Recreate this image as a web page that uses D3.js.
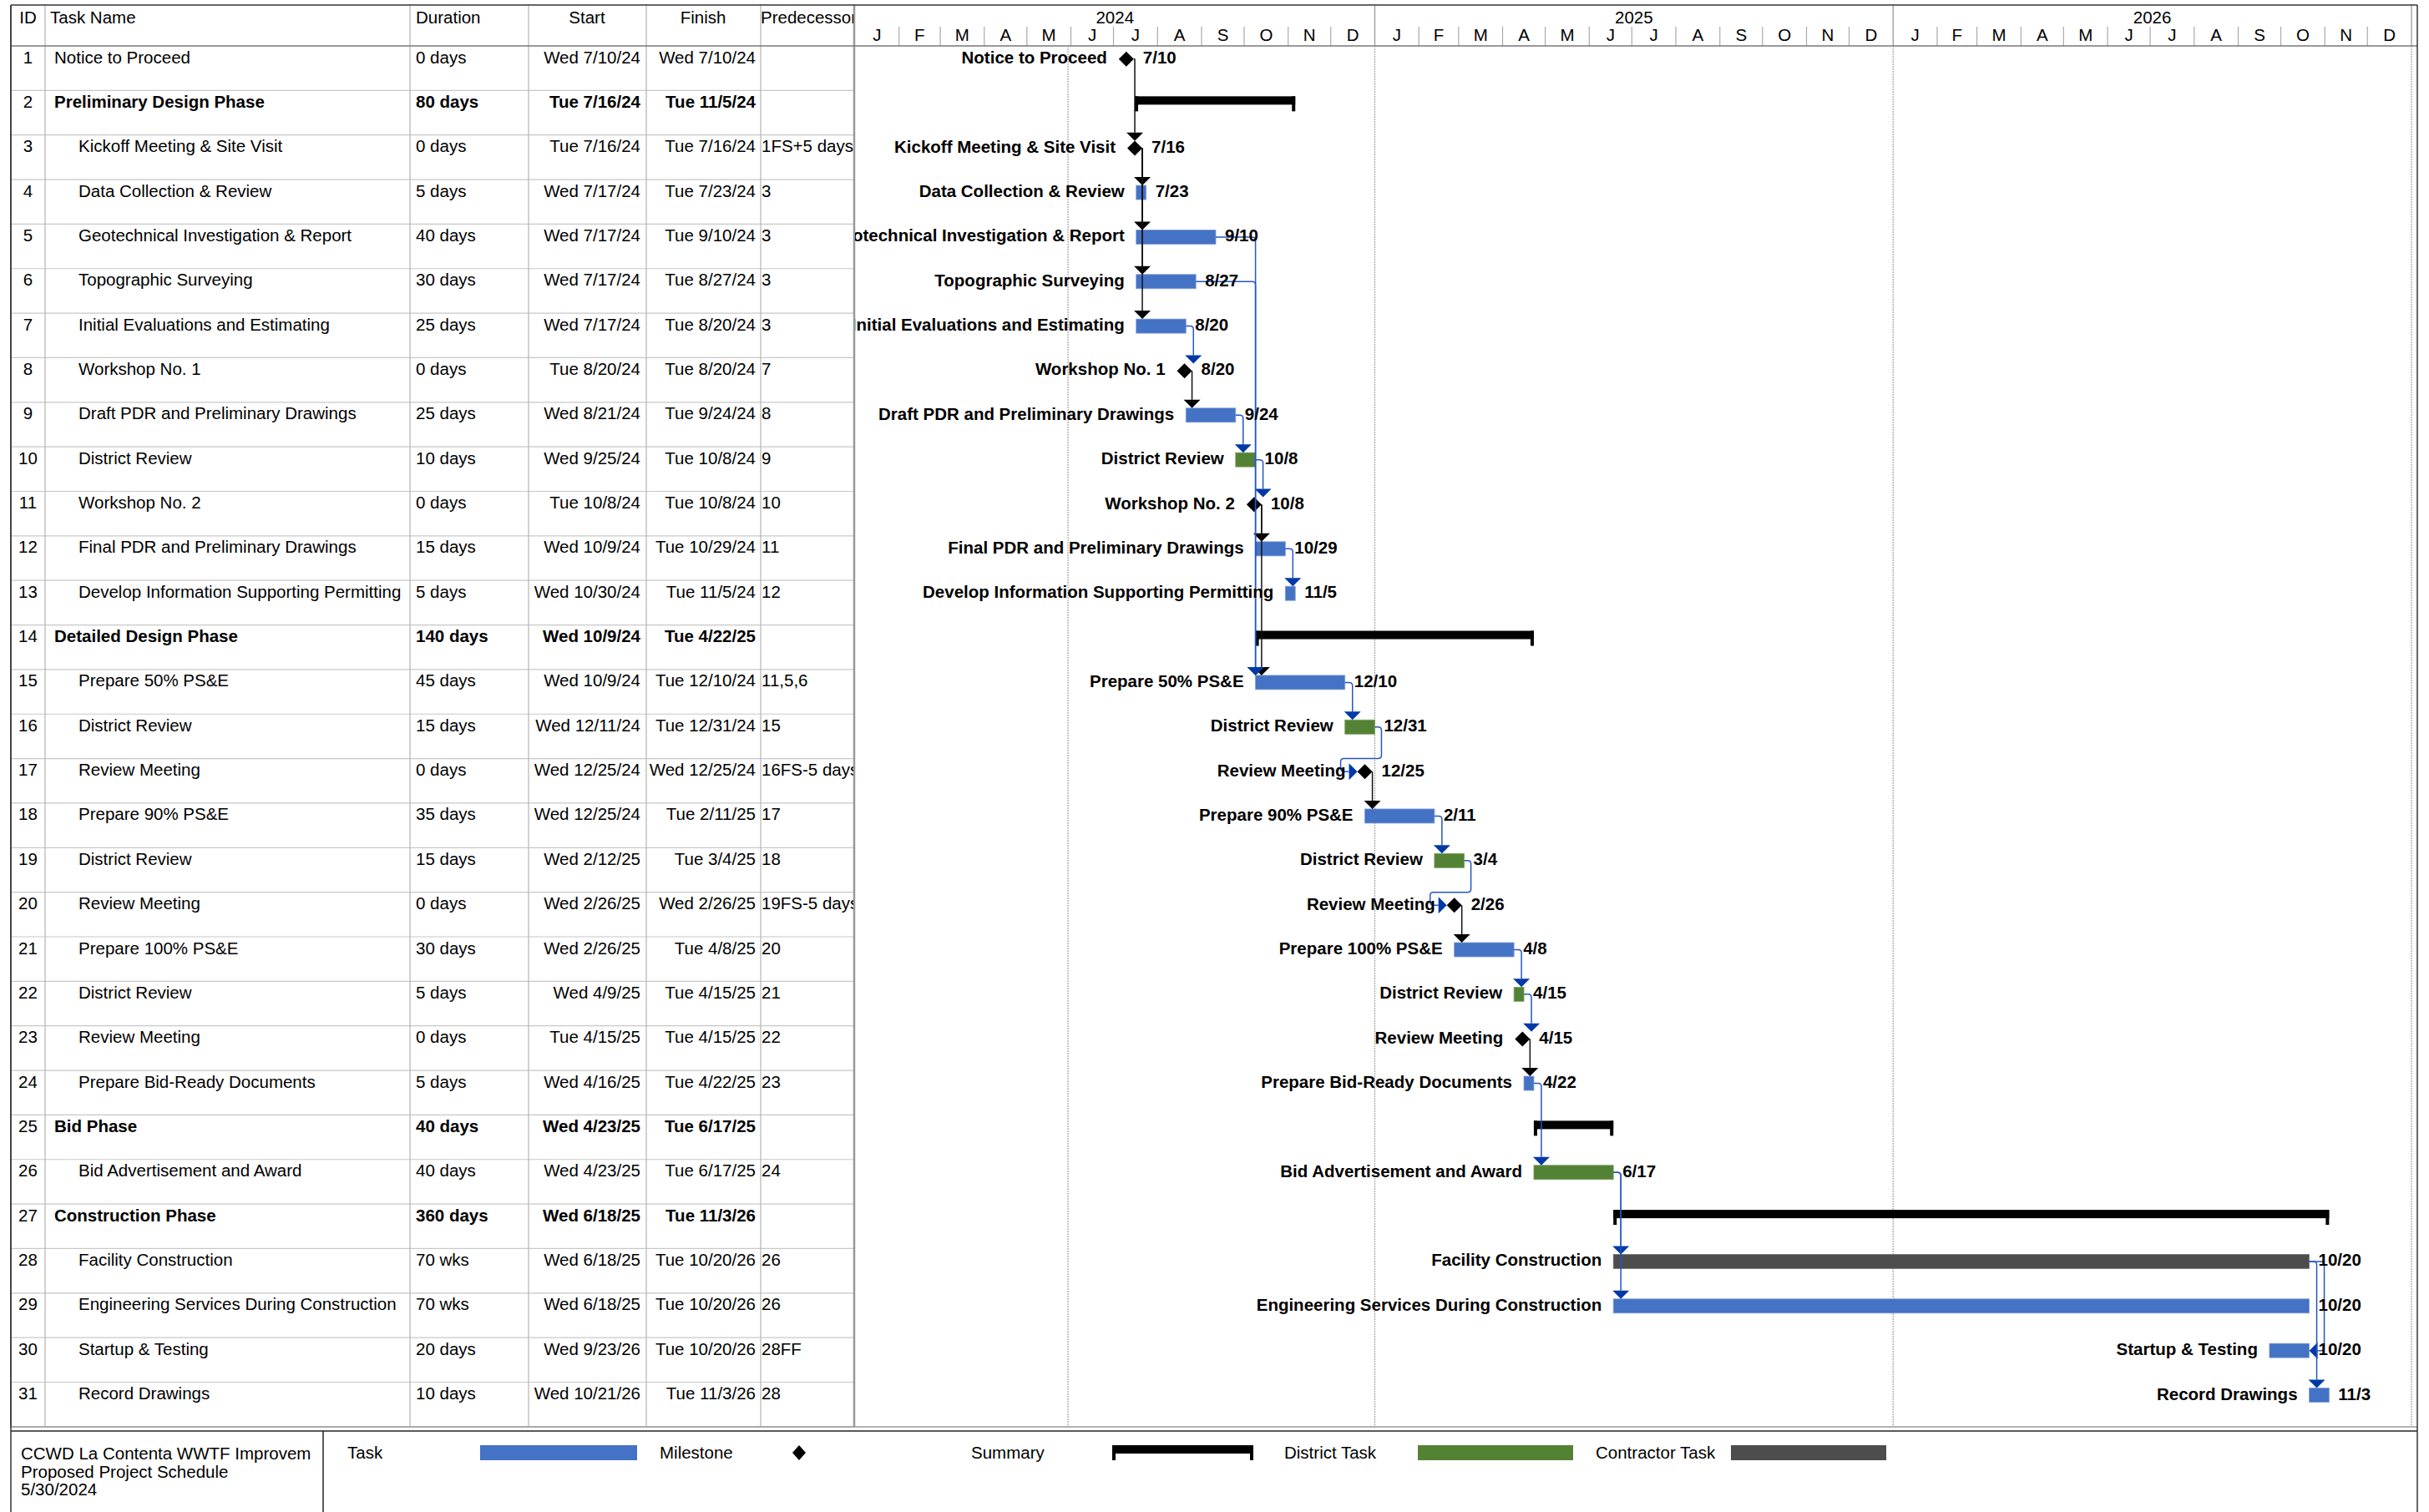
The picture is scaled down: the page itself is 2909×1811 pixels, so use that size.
<!DOCTYPE html>
<html><head><meta charset="utf-8">
<script src="https://cdn.jsdelivr.net/npm/d3@7"></script>
<style>
body{margin:0;background:#fff}
svg{display:block}
text{font-family:"Liberation Sans",Arial,sans-serif;font-size:20.5px;fill:#000}
</style>
</head><body>
<svg id="chart" width="2909" height="1811"></svg>
<script>
// ---------------- DATA ----------------
const taskIds = [1,2,3,4,5,6,7,8,9,10,11,12,13,14,15,16,17,18,19,20,21,22,23,24,25,26,27,28,29,30,31];
const taskNames = [
  "Notice to Proceed","Preliminary Design Phase","Kickoff Meeting & Site Visit","Data Collection & Review",
  "Geotechnical Investigation & Report","Topographic Surveying","Initial Evaluations and Estimating","Workshop No. 1",
  "Draft PDR and Preliminary Drawings","District Review","Workshop No. 2","Final PDR and Preliminary Drawings",
  "Develop Information Supporting Permitting","Detailed Design Phase","Prepare 50% PS&E","District Review",
  "Review Meeting","Prepare 90% PS&E","District Review","Review Meeting","Prepare 100% PS&E","District Review",
  "Review Meeting","Prepare Bid-Ready Documents","Bid Phase","Bid Advertisement and Award","Construction Phase",
  "Facility Construction","Engineering Services During Construction","Startup & Testing","Record Drawings"];
const outlineLevels = [1,1,2,2,2,2,2,2,2,2,2,2,2,1,2,2,2,2,2,2,2,2,2,2,1,2,1,2,2,2,2];
const durations = ["0 days","80 days","0 days","5 days","40 days","30 days","25 days","0 days","25 days","10 days",
  "0 days","15 days","5 days","140 days","45 days","15 days","0 days","35 days","15 days","0 days","30 days",
  "5 days","0 days","5 days","40 days","40 days","360 days","70 wks","70 wks","20 days","10 days"];
const startDates = ["Wed 7/10/24","Tue 7/16/24","Tue 7/16/24","Wed 7/17/24","Wed 7/17/24","Wed 7/17/24","Wed 7/17/24",
  "Tue 8/20/24","Wed 8/21/24","Wed 9/25/24","Tue 10/8/24","Wed 10/9/24","Wed 10/30/24","Wed 10/9/24","Wed 10/9/24",
  "Wed 12/11/24","Wed 12/25/24","Wed 12/25/24","Wed 2/12/25","Wed 2/26/25","Wed 2/26/25","Wed 4/9/25","Tue 4/15/25",
  "Wed 4/16/25","Wed 4/23/25","Wed 4/23/25","Wed 6/18/25","Wed 6/18/25","Wed 6/18/25","Wed 9/23/26","Wed 10/21/26"];
const finishDates = ["Wed 7/10/24","Tue 11/5/24","Tue 7/16/24","Tue 7/23/24","Tue 9/10/24","Tue 8/27/24","Tue 8/20/24",
  "Tue 8/20/24","Tue 9/24/24","Tue 10/8/24","Tue 10/8/24","Tue 10/29/24","Tue 11/5/24","Tue 4/22/25","Tue 12/10/24",
  "Tue 12/31/24","Wed 12/25/24","Tue 2/11/25","Tue 3/4/25","Wed 2/26/25","Tue 4/8/25","Tue 4/15/25","Tue 4/15/25",
  "Tue 4/22/25","Tue 6/17/25","Tue 6/17/25","Tue 11/3/26","Tue 10/20/26","Tue 10/20/26","Tue 10/20/26","Tue 11/3/26"];
const predecessors = ["","","1FS+5 days","3","3","3","3","7","8","9","10","11","12","","11,5,6","15","16FS-5 days",
  "17","18","19FS-5 days","20","21","22","23","","24","","26","26","28FF","28"];
const barTypes = ["milestone","summary","milestone","task","task","task","task","milestone","task","district",
  "milestone","task","task","summary","task","district","milestone","task","district","milestone","task","district",
  "milestone","task","summary","district","summary","contractor","task","task","task"];
const columnHeaders = ["ID","Task Name","Duration","Start","Finish","Predecessors"];
const yearLabels = ["2024","2025","2026"];
const monthLetters = ["J","F","M","A","M","J","J","A","S","O","N","D"];
const legendLabels = ["Task","Milestone","Summary","District Task","Contractor Task"];
const titleLines = ["CCWD La Contenta WWTF Improvem","Proposed Project Schedule","5/30/2024"];
const statusDate = "5/30/24";

// ---------------- HELPERS ----------------
const parseD = s => { const p = s.trim().split(" ").pop().split("/").map(Number); return new Date(Date.UTC(2000 + p[2], p[0]-1, p[1])); };
const addDay = d => new Date(d.getTime() + 86400000);
const shortDate = s => { const p = s.trim().split(" ").pop().split("/"); return p[0] + "/" + p[1]; };

const colors = { task:"#4472C4", district:"#548235", contractor:"#4D4D4D", summary:"#000", milestone:"#000" };
const linkBlue = "#2456c6", arrowBlue = "#0039a6";

const svg = d3.select("#chart");
const L = { left:13, top:6, headBottom:55, rowH:53.35, tableBottom:1709, legendTop:1714, right:2895,
  cols:[13,54,491,633,774,911,1023], chartX0:1024, chartX1:2888 };
const rowTop = i => L.headBottom + i * L.rowH;

const x = d3.scaleUtc().domain([new Date(Date.UTC(2024,0,1)), new Date(Date.UTC(2027,0,1))]).range([L.chartX0, L.chartX1]);

const defs = svg.append("defs");
defs.append("clipPath").attr("id","chartClip").append("rect")
  .attr("x",L.chartX0).attr("y",L.headBottom).attr("width",L.chartX1-L.chartX0).attr("height",L.tableBottom-L.headBottom);
L.cols.slice(0,-1).forEach((c,i)=>{
  defs.append("clipPath").attr("id","col"+i).append("rect")
    .attr("x",c+1).attr("y",0).attr("width",L.cols[i+1]-c-2).attr("height",1811);
});
defs.append("clipPath").attr("id","titleClip").append("rect").attr("x",14).attr("y",1714).attr("width",372).attr("height",100);

// ---------------- TABLE ----------------
const gT = svg.append("g");
taskIds.forEach((id,i)=>{
  gT.append("line").attr("x1",L.left).attr("x2",L.cols[6]).attr("y1",rowTop(i+1)).attr("y2",rowTop(i+1))
    .attr("stroke","#c8c8c8").attr("stroke-width",1.2);
});
L.cols.forEach((c,i)=>{
  gT.append("line").attr("x1",c).attr("x2",c).attr("y1",L.top).attr("y2",L.tableBottom)
    .attr("stroke", i===0 ? "#333" : (i===6 ? "#999" : "#b8b8b8")).attr("stroke-width", i===6 ? 2.5 : 1.3);
});
const hdrBase = 28;
const hdrPos = [{x:33.5,a:"middle"},{x:60,a:"start"},{x:498,a:"start"},{x:703,a:"middle"},{x:842,a:"middle"},{x:911,a:"start"}];
columnHeaders.forEach((h,i)=>{
  gT.append("text").attr("clip-path","url(#col"+i+")").attr("x",hdrPos[i].x).attr("y",hdrBase)
    .attr("text-anchor",hdrPos[i].a).text(h);
});
taskIds.forEach((id,i)=>{
  const y = rowTop(i) + 20.5;
  const bold = barTypes[i]==="summary" ? "bold" : "normal";
  const g = gT.append("g");
  g.append("text").attr("x",33.5).attr("y",y).attr("text-anchor","middle").text(id);
  g.append("text").attr("clip-path","url(#col1)").attr("x", outlineLevels[i]===1 ? 65 : 94).attr("y",y)
    .attr("font-weight",bold).text(taskNames[i]);
  g.append("text").attr("clip-path","url(#col2)").attr("x",498).attr("y",y).attr("font-weight",bold).text(durations[i]);
  g.append("text").attr("clip-path","url(#col3)").attr("x",767).attr("y",y).attr("text-anchor","end").attr("font-weight",bold).text(startDates[i]);
  g.append("text").attr("clip-path","url(#col4)").attr("x",905).attr("y",y).attr("text-anchor","end").attr("font-weight",bold).text(finishDates[i]);
  g.append("text").attr("clip-path","url(#col5)").attr("x",912).attr("y",y).text(predecessors[i]);
});

// ---------------- TIMESCALE HEADER ----------------
const gH = svg.append("g");
const years = d3.utcYears(x.domain()[0], x.domain()[1]);
years.forEach((yd,i)=>{
  const x0 = x(yd), x1 = x(d3.utcYear.offset(yd,1));
  gH.append("text").attr("x",(x0+x1)/2).attr("y",28).attr("text-anchor","middle").text(yearLabels[i]);
  if (i>0) gH.append("line").attr("x1",x0).attr("x2",x0).attr("y1",L.top).attr("y2",L.headBottom).attr("stroke","#999").attr("stroke-width",1.3);
});
d3.utcMonths(x.domain()[0], x.domain()[1]).forEach(md=>{
  const x0 = x(md), x1 = x(d3.utcMonth.offset(md,1));
  gH.append("text").attr("x",(x0+x1)/2).attr("y",49).attr("text-anchor","middle").text(monthLetters[md.getUTCMonth()]);
  if (md.getUTCMonth()!==0) gH.append("line").attr("x1",x0).attr("x2",x0).attr("y1",32).attr("y2",L.headBottom).attr("stroke","#aaa").attr("stroke-width",1.2);
});
gH.append("line").attr("x1",L.chartX1).attr("x2",L.chartX1).attr("y1",L.top).attr("y2",L.headBottom).attr("stroke","#999").attr("stroke-width",1.3);
svg.append("line").attr("x1",L.left).attr("x2",L.right).attr("y1",L.headBottom).attr("y2",L.headBottom).attr("stroke","#777").attr("stroke-width",1.5);
svg.append("line").attr("x1",L.left).attr("x2",L.right).attr("y1",L.top).attr("y2",L.top).attr("stroke","#333").attr("stroke-width",1.5);

const gridDates = [parseD(statusDate), ...years.slice(1), x.domain()[1]];
svg.append("g").selectAll("line").data(gridDates).join("line")
  .attr("x1",d=>x(d)).attr("x2",d=>x(d)).attr("y1",L.headBottom).attr("y2",L.tableBottom)
  .attr("stroke","#aaa").attr("stroke-width",1.3).attr("stroke-dasharray","2,1");

// ---------------- GANTT ----------------
const gC = svg.append("g").attr("clip-path","url(#chartClip)");
const gBars = gC.append("g"), gLinks = gC.append("g"), gLabels = gC.append("g");

const info = taskIds.map((id,i)=>{
  const s = parseD(startDates[i]), f = parseD(finishDates[i]);
  const isMs = barTypes[i]==="milestone";
  const xs = x(s), xe = isMs ? x(s) : x(addDay(f));
  return { i, isMs, xs, xe, left: isMs ? xs-9 : xs, right: isMs ? xs+9 : xe, top: rowTop(i), cy: rowTop(i) + (isMs ? 15.7 : 15.5) };
});

info.forEach(t=>{
  const type = barTypes[t.i];
  if (type==="summary") {
    gBars.append("rect").attr("x",t.xs).attr("y",t.top+7).attr("width",t.xe-t.xs).attr("height",10).attr("fill","#000");
    gBars.append("rect").attr("x",t.xs).attr("y",t.top+7).attr("width",4).attr("height",18).attr("fill","#000");
    gBars.append("rect").attr("x",t.xe-4).attr("y",t.top+7).attr("width",4).attr("height",18).attr("fill","#000");
    return;
  }
  if (t.isMs) {
    const cx = t.xs, cy = t.cy;
    gBars.append("path").attr("d",`M${cx},${cy-9}L${cx+9},${cy}L${cx},${cy+9}L${cx-9},${cy}Z`).attr("fill","#000");
  } else {
    gBars.append("rect").attr("x",t.xs).attr("y",t.top+7).attr("width",t.xe-t.xs).attr("height",17)
      .attr("fill",colors[type]).attr("stroke", type==="task" ? "#7f9ed8" : (type==="district" ? "#7ea063" : "#777")).attr("stroke-width",0.8);
  }
  const by = t.top + 21;
  gLabels.append("text").attr("x",t.left-14).attr("y",by).attr("text-anchor","end").attr("font-weight","bold").text(taskNames[t.i]);
  gLabels.append("text").attr("x",t.right+11).attr("y",by).attr("font-weight","bold").text(shortDate(finishDates[t.i]));
});

function rounded(pts, r){
  let d = `M${pts[0][0]},${pts[0][1]}`;
  for (let k=1;k<pts.length-1;k++){
    const [x0,y0]=pts[k-1],[x1,y1]=pts[k],[x2,y2]=pts[k+1];
    const l1=Math.hypot(x1-x0,y1-y0), l2=Math.hypot(x2-x1,y2-y1);
    const rr=Math.min(r,l1/2,l2/2);
    if (rr<0.5){ d+=`L${x1},${y1}`; continue; }
    const ax=x1-(x1-x0)/l1*rr, ay=y1-(y1-y0)/l1*rr, bx=x1+(x2-x1)/l2*rr, by=y1+(y2-y1)/l2*rr;
    d+=`L${ax},${ay}Q${x1},${y1} ${bx},${by}`;
  }
  const e=pts[pts.length-1]; d+=`L${e[0]},${e[1]}`;
  return d;
}
predecessors.forEach((ps,si)=>{
  if (!ps) return;
  ps.split(",").forEach(tok=>{
    const m = tok.trim().match(/^(\d+)(FS|FF|SS|SF)?/);
    const p = info[taskIds.indexOf(+m[1])], s = info[si], kind = m[2]||"FS";
    const lc = p.isMs ? "#111" : linkBlue, ac = p.isMs ? "#000" : arrowBlue;
    const px = p.right, py = p.cy;
    const pEnd = p.isMs ? p.xs : p.xe;
    let pts, arrow;
    if (kind==="FF") {
      const xr = px + 18;
      pts = [[px,py],[xr,py],[xr,s.cy],[s.xe+10,s.cy]];
      arrow = `M${s.xe},${s.cy}L${s.xe+10},${s.cy-10}L${s.xe+10},${s.cy+10}Z`;
    } else if (s.xs < pEnd - 5) {
      const jx = s.left - 20;
      pts = [[px,py],[px+8,py],[px+8,s.top],[jx,s.top],[jx,s.cy],[s.left-10,s.cy]];
      arrow = `M${s.left},${s.cy}L${s.left-10},${s.cy-10}L${s.left-10},${s.cy+10}Z`;
    } else {
      const ax = Math.max(p.isMs ? px : px + 9, s.xs);
      const tip = s.top + 7;
      pts = [[px,py],[ax,py],[ax,tip-10]];
      arrow = `M${ax},${tip}L${ax-10},${tip-10}L${ax+10},${tip-10}Z`;
    }
    gLinks.append("path").attr("d",rounded(pts,4)).attr("fill","none").attr("stroke",lc).attr("stroke-width",1.5);
    gLinks.append("path").attr("d",arrow).attr("fill",ac);
  });
});

// ---------------- BOTTOM / LEGEND ----------------
svg.append("line").attr("x1",L.left).attr("x2",L.right).attr("y1",L.tableBottom).attr("y2",L.tableBottom).attr("stroke","#999").attr("stroke-width",1.3);
svg.append("line").attr("x1",L.left).attr("x2",L.right).attr("y1",L.legendTop).attr("y2",L.legendTop).attr("stroke","#222").attr("stroke-width",1.6);
svg.append("line").attr("x1",L.left).attr("x2",L.left).attr("y1",L.top).attr("y2",1811).attr("stroke","#333").attr("stroke-width",1.5);
svg.append("line").attr("x1",L.right).attr("x2",L.right).attr("y1",L.top).attr("y2",1811).attr("stroke","#333").attr("stroke-width",1.5);
svg.append("line").attr("x1",387).attr("x2",387).attr("y1",L.legendTop).attr("y2",1811).attr("stroke","#222").attr("stroke-width",1.5);

const gLeg = svg.append("g");
titleLines.forEach((t,k)=>{
  gLeg.append("text").attr("clip-path","url(#titleClip)").attr("x",25).attr("y",1748 + k*21.5).text(t);
});
const legX = [416,790,1163,1538,1911];
legendLabels.forEach((t,k)=>gLeg.append("text").attr("x",legX[k]).attr("y",1747).text(t));
gLeg.append("rect").attr("x",575).attr("y",1731).attr("width",188).attr("height",18).attr("fill",colors.task);
gLeg.append("path").attr("d","M957,1731L965,1740L957,1749L949,1740Z").attr("fill","#000");
gLeg.append("rect").attr("x",1332).attr("y",1731).attr("width",169).attr("height",10).attr("fill","#000");
gLeg.append("rect").attr("x",1332).attr("y",1731).attr("width",4).attr("height",18).attr("fill","#000");
gLeg.append("rect").attr("x",1497).attr("y",1731).attr("width",4).attr("height",18).attr("fill","#000");
gLeg.append("rect").attr("x",1698).attr("y",1731).attr("width",186).attr("height",18).attr("fill",colors.district);
gLeg.append("rect").attr("x",2073).attr("y",1731).attr("width",186).attr("height",18).attr("fill",colors.contractor);
</script>
</body></html>
